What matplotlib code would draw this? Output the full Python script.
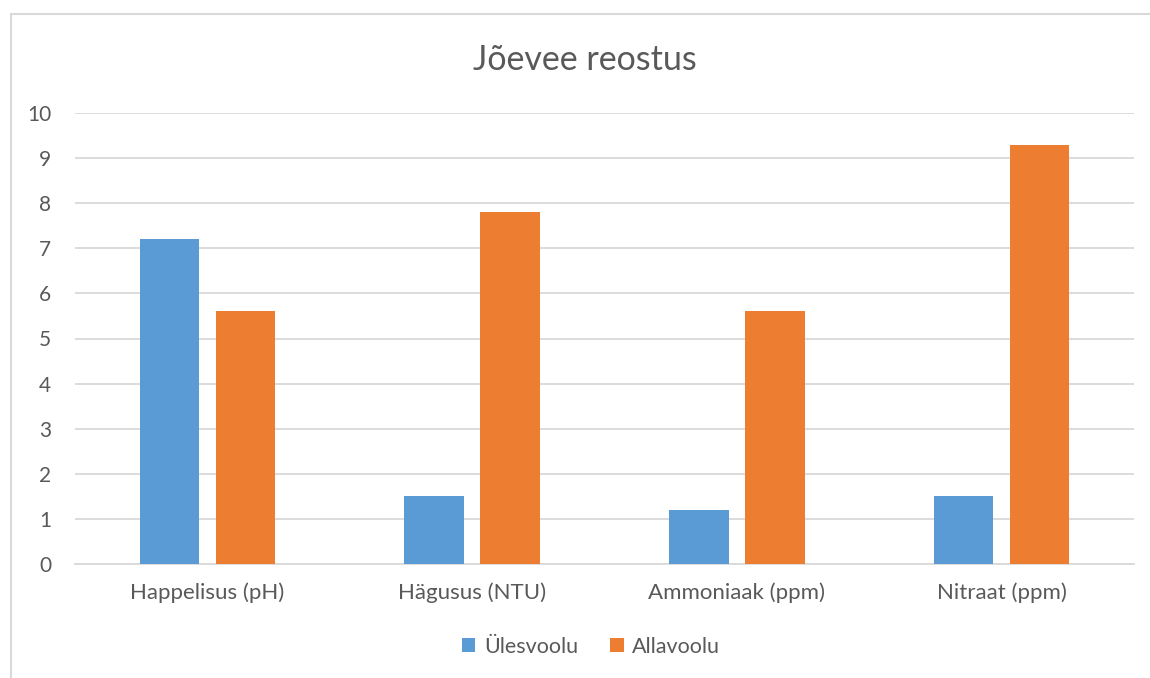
import numpy as np
import matplotlib
matplotlib.use("Agg")
import matplotlib.pyplot as plt
from matplotlib.patches import Rectangle

categories = ["Happelisus (pH)", "Hägusus (NTU)", "Ammoniaak (ppm)", "Nitraat (ppm)"]
upstream = [7.2, 1.5, 1.2, 1.5]
downstream = [5.6, 7.8, 5.6, 9.3]
series_names = ["Ülesvoolu", "Allavoolu"]
yticks = list(range(0, 11))

plt.rcParams["font.family"] = ["Lato", "DejaVu Sans"]
text_color = "#595959"
grid_color = "#D9D9D9"

fig = plt.figure(figsize=(11.5, 6.78), dpi=100)
ax = fig.add_axes([75 / 1150, 114 / 678, 1059 / 1150, 451 / 678])

# outer chart frame
fig.patches.append(Rectangle((11 / 1150, -0.1), 1.2, (678 - 14) / 678 + 0.1,
                             transform=fig.transFigure, fill=False,
                             edgecolor=grid_color, linewidth=1.5))

x = np.arange(len(categories))
w = 0.224
gap = 0.063
ax.bar(x - (w + gap) / 2, upstream, w, color="#5B9BD5", label=series_names[0], zorder=3)
ax.bar(x + (w + gap) / 2, downstream, w, color="#ED7D31", label=series_names[1], zorder=3)

ax.set_xlim(-0.5, len(categories) - 0.5)
ax.set_ylim(0, 10)
ax.set_yticks(yticks)
ax.yaxis.grid(True, color=grid_color, linewidth=1.3, zorder=0)
ax.set_axisbelow(True)
for s in ["top", "right", "left"]:
    ax.spines[s].set_visible(False)
ax.spines["bottom"].set_color(grid_color)
ax.spines["bottom"].set_linewidth(1.3)

ax.set_xticks(x)
ax.set_xticklabels(categories)
ax.tick_params(axis="both", length=0, labelcolor=text_color)
ax.tick_params(axis="x", pad=13, labelsize=16)
ax.tick_params(axis="y", pad=17, labelsize=15)

fig.text(585 / 1150, 1 - 60 / 678, "Jõevee reostus", ha="center", va="center",
         fontsize=24.5, color=text_color)

leg = fig.legend(loc="center", bbox_to_anchor=(591 / 1150, 1 - 647 / 678), ncol=2,
                 frameon=False, fontsize=15.5, handlelength=0.62, handleheight=0.62,
                 handletextpad=0.4, columnspacing=1.5)
for t in leg.get_texts():
    t.set_color(text_color)

fig.savefig("out.png", dpi=100)
